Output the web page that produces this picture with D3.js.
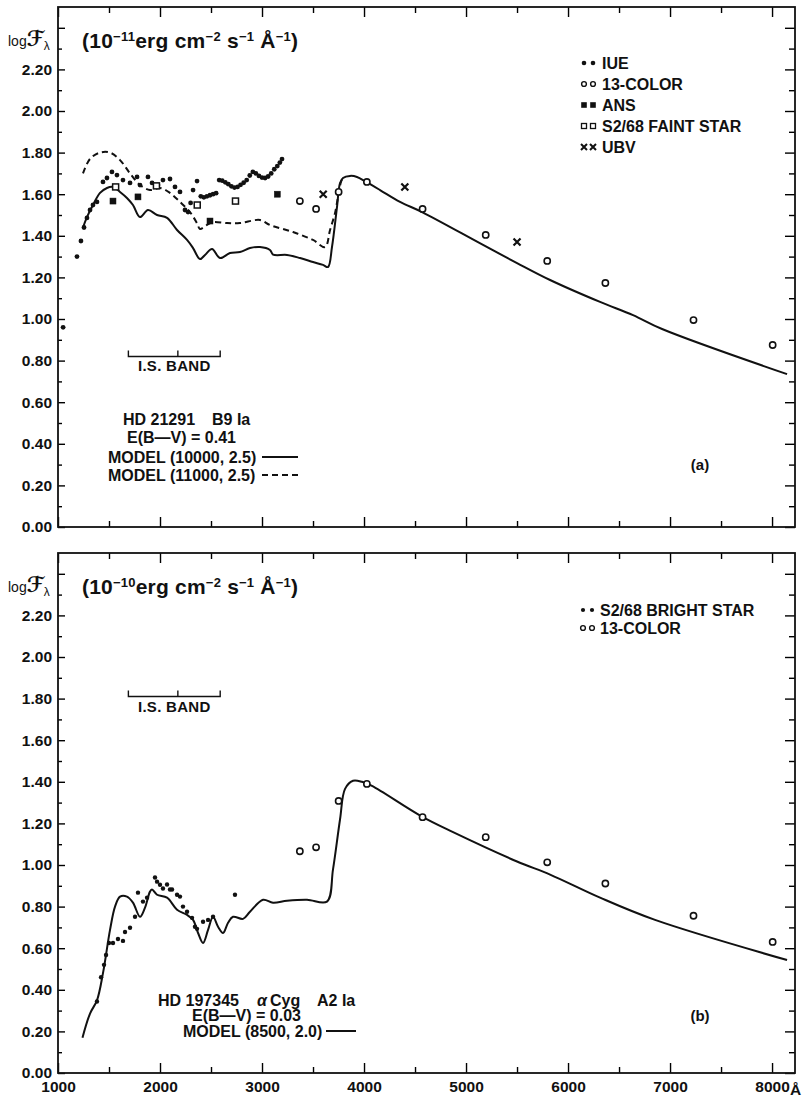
<!DOCTYPE html>
<html><head><meta charset="utf-8">
<script src="https://cdn.jsdelivr.net/npm/d3@7"></script>
<style>
body{margin:0;background:#fff;}
svg{display:block;}
text{font-family:"Liberation Sans",Arial,Helvetica,sans-serif;font-weight:bold;fill:#111;}
</style></head><body>
<svg id="chart" width="804" height="1101"></svg>
<script>
// ---------------- data ----------------
const xMajorTicks = [1000,2000,3000,4000,5000,6000,7000,8000];
const xMinorTicks = [1500,2500,3500,4500,5500,6500,7500];
const yTickLabels = ["0.00","0.20","0.40","0.60","0.80","1.00","1.20","1.40","1.60","1.80","2.00","2.20"];

// panel (a): HD 21291
const iueA = [[1050,0.96],[1186,1.30],[1225,1.375],[1255,1.44],[1284,1.486],[1314,1.524],[1343,1.548],[1382,1.563],
  [1441,1.659],[1480,1.678],[1529,1.707],[1578,1.692],[1637,1.668],[1706,1.654],[1775,1.683],[1804,1.644],
  [1882,1.683],[1922,1.654],[1980,1.644],[2029,1.668],[2098,1.673],[2147,1.635],[2196,1.611],[2245,1.524],
  [2275,1.514],[2300,1.558],[2324,1.62],[2363,1.663],[2400,1.59],[2430,1.585],[2460,1.59],[2490,1.595],
  [2520,1.60],[2550,1.605],[2580,1.668],[2610,1.665],[2640,1.657],[2670,1.648],[2700,1.638],[2730,1.632],
  [2760,1.635],[2790,1.645],[2820,1.655],[2850,1.668],[2880,1.69],[2910,1.707],[2940,1.70],[2970,1.688],
  [3000,1.68],[3030,1.678],[3060,1.685],[3090,1.70],[3120,1.72],[3150,1.735],[3175,1.752],[3196,1.769]];
const colorLambda = [3371,3530,3751,4028,4574,5193,5796,6366,7230,8006];
const colorA = [1.567,1.529,1.611,1.659,1.529,1.404,1.279,1.173,0.995,0.875];
const ansA = [[1539,1.567],[1784,1.587],[2490,1.471],[3150,1.60]];
const s2FaintA = [[1565,1.635],[1965,1.64],[2365,1.548],[2740,1.567]];
const ubvA = [[3600,1.60],[4400,1.635],[5500,1.37]];
const model10000 = [[1245,1.44],[1284,1.49],[1343,1.548],[1412,1.606],[1480,1.63],[1539,1.635],[1608,1.611],
  [1676,1.582],[1735,1.548],[1804,1.49],[1882,1.524],[1971,1.50],[2069,1.486],[2167,1.428],[2265,1.38],
  [2324,1.341],[2392,1.288],[2441,1.308],[2510,1.337],[2588,1.293],[2686,1.317],[2784,1.322],[2882,1.341],
  [2980,1.346],[3078,1.332],[3108,1.31],[3245,1.308],[3373,1.293],[3500,1.274],[3598,1.26],[3647,1.25],
  [3686,1.346],[3735,1.538],[3765,1.654],[3794,1.678],[3863,1.688],[3931,1.683],[4020,1.659],[4157,1.62],
  [4353,1.563],[4569,1.514],[5167,1.356],[5500,1.269],[5824,1.1875],[6314,1.082],[6637,1.019],[6922,0.952],
  [8147,0.735]];
const model11000 = [[1245,1.70],[1314,1.77],[1412,1.80],[1510,1.80],[1608,1.764],[1706,1.70],[1804,1.644],
  [1902,1.62],[2000,1.63],[2098,1.606],[2196,1.563],[2294,1.514],[2363,1.46],[2392,1.433],[2461,1.452],
  [2520,1.466],[2657,1.461],[2784,1.461],[2980,1.476],[3078,1.452],[3304,1.418],[3500,1.38],[3618,1.346],
  [3667,1.428],[3716,1.51],[3745,1.587],[3775,1.66],[3794,1.678]];

// panel (b): HD 197345 (alpha Cyg)
const s2BrightB = [[1382,0.344],[1422,0.46],[1451,0.52],[1471,0.567],[1500,0.625],[1539,0.625],[1588,0.644],
  [1637,0.635],[1657,0.678],[1706,0.698],[1755,0.751],[1784,0.867],[1833,0.824],[1873,0.843],[1951,0.94],
  [1971,0.92],[2000,0.905],[2029,0.887],[2069,0.906],[2098,0.882],[2118,0.882],[2167,0.857],[2196,0.848],
  [2225,0.80],[2265,0.775],[2314,0.746],[2343,0.703],[2363,0.693],[2422,0.727],[2471,0.736],[2520,0.751],
  [2735,0.857]];
const colorB = [1.066,1.085,1.308,1.39,1.23,1.134,1.013,0.911,0.756,0.63];
const model8500 = [[1240,0.17],[1314,0.286],[1382,0.349],[1441,0.48],[1510,0.688],[1559,0.80],[1608,0.848],
  [1676,0.848],[1735,0.819],[1804,0.751],[1853,0.795],[1902,0.872],[1922,0.882],[1971,0.857],[2069,0.843],
  [2167,0.785],[2265,0.76],[2324,0.736],[2373,0.673],[2422,0.625],[2471,0.688],[2520,0.751],[2569,0.703],
  [2618,0.673],[2667,0.722],[2716,0.751],[2814,0.741],[2882,0.775],[3010,0.833],[3108,0.819],[3245,0.828],
  [3441,0.833],[3637,0.824],[3696,0.979],[3765,1.22],[3814,1.366],[3892,1.405],[3980,1.40],[4078,1.38],
  [4559,1.235],[4873,1.158],[5500,1.017],[5824,0.954],[6314,0.843],[6853,0.736],[8147,0.543]];

const isBandLambda = [1690,2175,2590];
const isBandLevelA = 0.82, isBandLevelB = 1.81;

// ---------------- drawing ----------------
const svg = d3.select("#chart");
const x = d3.scaleLinear().domain([1000, 8225]).range([58, 795]);

function dot(g, pts, y, r) {
  g.selectAll(null).data(pts).join("circle")
    .attr("cx", d => x(d[0])).attr("cy", d => y(d[1])).attr("r", r || 2.4).attr("fill", "#111");
}
function ring(g, pts, y) {
  g.selectAll(null).data(pts).join("circle")
    .attr("cx", d => x(d[0])).attr("cy", d => y(d[1])).attr("r", 3.1)
    .attr("fill", "#fff").attr("stroke", "#111").attr("stroke-width", 1.6);
}
function sq(g, pts, y, filled) {
  g.selectAll(null).data(pts).join("rect")
    .attr("x", d => x(d[0]) - 3).attr("y", d => y(d[1]) - 3).attr("width", 6).attr("height", 6)
    .attr("fill", filled ? "#111" : "#fff").attr("stroke", "#111").attr("stroke-width", filled ? 0.5 : 1.5);
}
function cross(g, pts, y) {
  g.selectAll(null).data(pts).join("path")
    .attr("d", d => { const cx = x(d[0]), cy = y(d[1]);
      return `M${cx-3.5},${cy-3.5}L${cx+3.5},${cy+3.5}M${cx-3.5},${cy+3.5}L${cx+3.5},${cy-3.5}`; })
    .attr("stroke", "#111").attr("stroke-width", 2.2);
}
function line(g, pts, y, dash) {
  const gen = d3.line().x(d => x(d[0])).y(d => y(d[1])).curve(d3.curveCatmullRom.alpha(0.5));
  g.append("path").attr("d", gen(pts)).attr("fill", "none").attr("stroke", "#111")
    .attr("stroke-width", 2).attr("stroke-dasharray", dash ? "6,4" : null);
}
function txt(g, px, py, s, size, anchor) {
  return g.append("text").attr("x", px).attr("y", py).attr("font-size", size || 16)
    .attr("text-anchor", anchor || "start").text(s);
}

function axes(g, y, showX) {
  const y0 = y(0), yTop = y(2.5);
  const styleTicks = sel => { sel.select(".domain").remove(); sel.selectAll("line").attr("stroke-width", 1.4); };
  g.append("g").attr("transform", `translate(0,${y0})`)
    .call(d3.axisBottom(x).tickValues(xMinorTicks).tickSize(-6).tickFormat("")).call(styleTicks);
  const bx = g.append("g").attr("transform", `translate(0,${y0})`)
    .call(d3.axisBottom(x).tickValues(xMajorTicks).tickSize(-10).tickPadding(8)
      .tickFormat(d => showX ? String(d) : "")).call(styleTicks);
  bx.selectAll("text").attr("font-size", 15.5).attr("font-family", null);
  g.append("g").attr("transform", `translate(0,${yTop})`)
    .call(d3.axisTop(x).tickValues(xMinorTicks).tickSize(-6).tickFormat("")).call(styleTicks);
  g.append("g").attr("transform", `translate(0,${yTop})`)
    .call(d3.axisTop(x).tickValues(xMajorTicks).tickSize(-10).tickFormat("")).call(styleTicks);

  const majorY = d3.range(0, 25, 2).map(d => d / 10);
  const minorY = d3.range(1, 25, 2).map(d => d / 10);
  g.append("g").attr("transform", `translate(${x(1000)},0)`)
    .call(d3.axisLeft(y).tickValues(minorY).tickSize(-4).tickFormat("")).call(styleTicks);
  const ly = g.append("g").attr("transform", `translate(${x(1000)},0)`)
    .call(d3.axisLeft(y).tickValues(majorY).tickSize(-7).tickPadding(6)
      .tickFormat((d, i) => yTickLabels[i] || "")).call(styleTicks);
  ly.selectAll("text").attr("font-size", 15.5).attr("font-family", null).attr("x", -6);
  g.append("g").attr("transform", `translate(${x(8225)},0)`)
    .call(d3.axisRight(y).tickValues(minorY).tickSize(-6).tickFormat("")).call(styleTicks);
  g.append("g").attr("transform", `translate(${x(8225)},0)`)
    .call(d3.axisRight(y).tickValues(majorY).tickSize(-10).tickFormat("")).call(styleTicks);

  g.append("rect").attr("x", x(1000)).attr("y", yTop).attr("width", x(8225) - x(1000))
    .attr("height", y0 - yTop).attr("fill", "none").attr("stroke", "#111").attr("stroke-width", 1.8);

  if (showX) {
    txt(g, x(8000) + 18, y0 + 22, "Å", 15.5);
  }
}

function header(g, y, exp) {
  const top = y(2.5);
  // log F_lambda
  const lt = g.append("text").attr("x", 8).attr("y", top + 39);
  lt.append("tspan").attr("font-size", 14).attr("font-weight", "normal").text("log");
  lt.append("tspan").attr("font-size", 21).attr("font-weight", "bold").attr("font-style", "italic")
    .attr("font-family", "DejaVu Sans, sans-serif").text("ℱ");
  lt.append("tspan").attr("font-size", 12).attr("font-weight", "normal").attr("dy", 4).text("λ");
  // units
  const t = g.append("text").attr("x", 82).attr("y", top + 41).attr("font-size", 21)
    .attr("textLength", 216).attr("lengthAdjust", "spacing");
  t.append("tspan").text("(10");
  t.append("tspan").attr("font-size", 13).attr("dy", -7).text(exp);
  t.append("tspan").attr("dy", 7).text("erg cm");
  t.append("tspan").attr("font-size", 13).attr("dy", -7).text("−2");
  t.append("tspan").attr("dy", 7).text(" s");
  t.append("tspan").attr("font-size", 13).attr("dy", -7).text("−1");
  t.append("tspan").attr("dy", 7).text(" Å");
  t.append("tspan").attr("font-size", 13).attr("dy", -7).text("−1");
  t.append("tspan").attr("dy", 7).text(")");
}

function isBand(g, y, level) {
  const yy = y(level);
  const xs = isBandLambda.map(x);
  g.append("path")
    .attr("d", `M${xs[0]},${yy-6}V${yy}H${xs[2]}V${yy-6}M${xs[1]},${yy}V${yy-6}`)
    .attr("fill", "none").attr("stroke", "#111").attr("stroke-width", 1.4);
  txt(g, x(2140), yy + 15, "I.S. BAND", 15, "middle").attr("letter-spacing", 0.3);
}

// ---------- panel (a) ----------
const yA = d3.scaleLinear().domain([0, 2.5]).range([527, 7]);
const gA = svg.append("g");
axes(gA, yA, false);
header(gA, yA, "−11");
line(gA, model10000, yA, false);
line(gA, model11000, yA, true);
dot(gA, iueA, yA);
ring(gA, colorLambda.map((l, i) => [l, colorA[i]]), yA);
sq(gA, ansA, yA, true);
sq(gA, s2FaintA, yA, false);
cross(gA, ubvA, yA);
isBand(gA, yA, isBandLevelA);

// legend (a)
const legA = [["dot","IUE"],["ring","13-COLOR"],["fsq","ANS"],["osq","S2/68 FAINT STAR"],["x","UBV"]];
legA.forEach((d, i) => {
  const cy = 63 + i * 21;
  [584, 593].forEach(cx => {
    if (d[0] === "dot") gA.append("circle").attr("cx", cx).attr("cy", cy).attr("r", 2.3).attr("fill", "#111");
    if (d[0] === "ring") gA.append("circle").attr("cx", cx).attr("cy", cy).attr("r", 2.4).attr("fill", "#fff").attr("stroke", "#111").attr("stroke-width", 1.4);
    if (d[0] === "fsq") gA.append("rect").attr("x", cx - 2.8).attr("y", cy - 2.8).attr("width", 5.6).attr("height", 5.6).attr("fill", "#111");
    if (d[0] === "osq") gA.append("rect").attr("x", cx - 2.5).attr("y", cy - 2.5).attr("width", 5).attr("height", 5).attr("fill", "#fff").attr("stroke", "#111").attr("stroke-width", 1.3);
    if (d[0] === "x") gA.append("path").attr("d", `M${cx-3},${cy-3}L${cx+3},${cy+3}M${cx-3},${cy+3}L${cx+3},${cy-3}`).attr("stroke", "#111").attr("stroke-width", 2);
  });
  txt(gA, 602, cy + 6, d[1], 16);
});

// annotations (a)
txt(gA, 123, 425, "HD 21291", 16);
txt(gA, 212, 425, "B9 Ia", 16);
txt(gA, 127, 443, "E(B—V) = 0.41", 16);
txt(gA, 108, 463, "MODEL (10000, 2.5)", 16);
txt(gA, 108, 481, "MODEL (11000, 2.5)", 16);
gA.append("line").attr("x1", 262).attr("x2", 298).attr("y1", 457).attr("y2", 457).attr("stroke", "#111").attr("stroke-width", 2);
gA.append("line").attr("x1", 262).attr("x2", 298).attr("y1", 475).attr("y2", 475).attr("stroke", "#111").attr("stroke-width", 2).attr("stroke-dasharray", "6,4");
txt(gA, 700, 470, "(a)", 15, "middle");

// ---------- panel (b) ----------
const yB = d3.scaleLinear().domain([0, 2.5]).range([1073, 553]);
const gB = svg.append("g");
axes(gB, yB, true);
header(gB, yB, "−10");
line(gB, model8500, yB, false);
dot(gB, s2BrightB, yB, 2.2);
ring(gB, colorLambda.map((l, i) => [l, colorB[i]]), yB);
isBand(gB, yB, isBandLevelB);

const legB = [["dot","S2/68 BRIGHT STAR"],["ring","13-COLOR"]];
legB.forEach((d, i) => {
  const cy = 610 + i * 18;
  [583, 592].forEach(cx => {
    if (d[0] === "dot") gB.append("circle").attr("cx", cx).attr("cy", cy).attr("r", 2.1).attr("fill", "#111");
    else gB.append("circle").attr("cx", cx).attr("cy", cy).attr("r", 2.4).attr("fill", "#fff").attr("stroke", "#111").attr("stroke-width", 1.4);
  });
  txt(gB, 600, cy + 6, d[1], 16);
});

txt(gB, 158, 1006, "HD 197345", 16);
gB.append("text").attr("x", 257).attr("y", 1006).attr("font-size", 16).attr("font-style", "italic").attr("font-weight", "normal").text("α");
txt(gB, 270, 1006, "Cyg", 16);
txt(gB, 317, 1006, "A2 Ia", 16);
txt(gB, 192, 1021, "E(B—V) = 0.03", 16);
txt(gB, 183, 1037, "MODEL (8500, 2.0)", 16);
gB.append("line").attr("x1", 326).attr("x2", 356).attr("y1", 1031).attr("y2", 1031).attr("stroke", "#111").attr("stroke-width", 2);
txt(gB, 700, 1021, "(b)", 15, "middle");
</script>
</body></html>
